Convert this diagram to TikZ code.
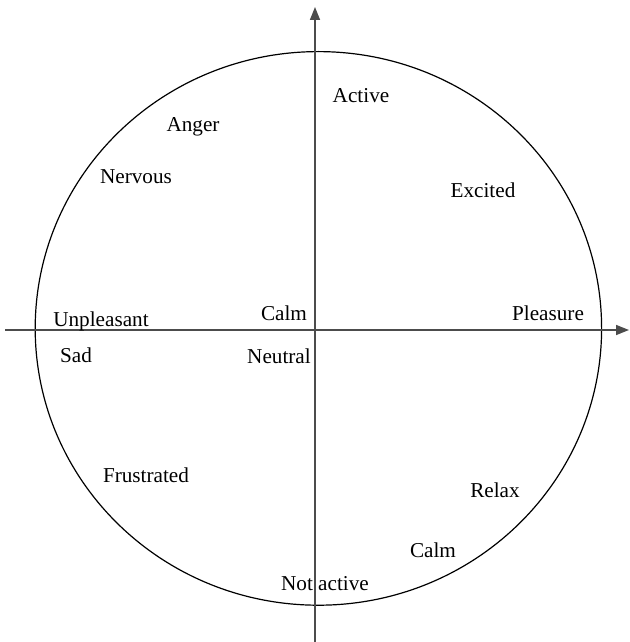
\documentclass[tikz,border=0pt]{standalone}
\usepackage{fontspec}
\setmainfont{Liberation Serif}
\usetikzlibrary{arrows.meta,positioning}

\begin{document}
\begin{tikzpicture}[
  x=0.5pt, y=-0.5pt,
  axis/.style={draw=black!70, line width=0.75pt, -{Triangle[length=6.5pt,width=5pt]}},
  ring/.style={draw=black, line width=0.6pt},
  lbl/.style={anchor=base, inner sep=0pt, font=\fontsize{10.6}{12}\selectfont}
]
\useasboundingbox (0,0) rectangle (629,642);
\coordinate (west)  at (5,330);
\coordinate (east)  at (629,330);
\coordinate (south) at (315,642);
\coordinate (north) at (315,7);
\coordinate (mid)   at (318.4,328.4);
\draw[ring] (mid) ellipse [x radius=141.6pt, y radius=138.4pt];
\draw[axis] (west)  -- (east);
\draw[axis] (south) -- (north);
\node[lbl] (active)     at (361,103) {Active};
\node[lbl] (anger)      at (193,132) {Anger};
\node[lbl] (nervous)    at (136,183) {Nervous};
\node[lbl] (excited)    at (483,197) {Excited};
\node[lbl] (unpleasant) at (101,326) {Unpleasant};
\node[lbl] (calmA)      at (284,320) {Calm};
\node[lbl] (pleasure)   at (548,320) {Pleasure};
\node[lbl] (sad)        at (76,362)  {Sad};
\node[lbl] (neutral)    at (279,363) {Neutral};
\node[lbl] (frustrated) at (146,482) {Frustrated};
\node[lbl] (relax)      at (495,497) {Relax};
\node[lbl] (calmB)      at (433,557) {Calm};
\node[lbl] (notactive)  at (325,590) {Not active};
\end{tikzpicture}
\end{document}
